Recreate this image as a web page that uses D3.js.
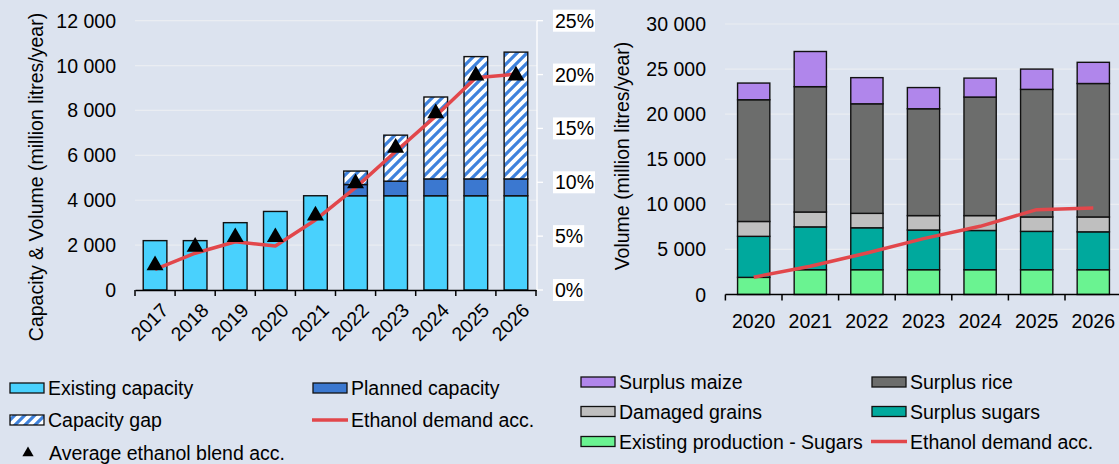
<!DOCTYPE html>
<html>
<head>
<meta charset="utf-8">
<script src="https://cdn.jsdelivr.net/npm/d3@7"></script>
<style>
  body { margin: 0; background: #dce3ef; }
  svg { display: block; font-family: "Liberation Sans", Arial, sans-serif; }
</style>
</head>
<body>
<svg id="chart" width="1119" height="464"></svg>
<script>
// left panel: capacity vs demand
const years1 = ["2017", "2018", "2019", "2020", "2021", "2022", "2023", "2024", "2025", "2026"];
const existingCap = [2200, 2200, 3000, 3500, 4200, 4200, 4200, 4200, 4200, 4200];
const plannedCap = [0, 0, 0, 0, 0, 500, 650, 750, 750, 750];
const capacityGap = [0, 0, 0, 0, 0, 600, 2050, 3650, 5450, 5650];
const demandAcc1 = [920, 1640, 2150, 1960, 3120, 4560, 6170, 7750, 9460, 9620];
const blendAcc = [2.3, 4.0, 4.9, 4.9, 6.9, 9.9, 13.2, 16.4, 19.9, 19.9];
const ticks1 = [0, 2000, 4000, 6000, 8000, 10000, 12000];
const pctTicks = [0, 5, 10, 15, 20, 25];

// right panel: feedstock volumes
const years2 = ["2020", "2021", "2022", "2023", "2024", "2025", "2026"];
const existingSugars = [1900, 2750, 2750, 2750, 2750, 2750, 2750];
const surplusSugars = [4550, 4750, 4650, 4400, 4350, 4250, 4200];
const damagedGrains = [1650, 1650, 1600, 1600, 1650, 1600, 1650];
const surplusRice = [13500, 13900, 12150, 11850, 13150, 14150, 14800];
const surplusMaize = [1850, 3900, 2900, 2350, 2100, 2250, 2350];
const demandAcc2 = [1920, 3130, 4610, 6200, 7560, 9410, 9600];
const ticks2 = [0, 5000, 10000, 15000, 20000, 25000, 30000];

const svg = d3.select("#chart");
const fmt = d => d3.format(",")(d).replace(/,/g, " ");
const red = "#e2474b";
const fs = 19.5;

const defs = svg.append("defs");
const pat = defs.append("pattern")
  .attr("id", "gap")
  .attr("patternUnits", "userSpaceOnUse")
  .attr("width", 10).attr("height", 10);
pat.append("rect").attr("width", 10).attr("height", 10).attr("fill", "#fff");
pat.append("path")
  .attr("d", "M-2,2 L2,-2 M0,10 L10,0 M8,12 L12,8")
  .attr("stroke", "#3f82dc").attr("stroke-width", 3.2);

// ---------- left chart ----------
const x1 = d3.scaleBand().domain(years1).range([135, 536]).paddingInner(0.41).paddingOuter(0.205);
const y1 = d3.scaleLinear().domain([0, 12000]).range([290, 20.7]);
const yp = d3.scaleLinear().domain([0, 25]).range([290, 20.7]);

const g1 = svg.append("g");
g1.selectAll(".grid1").data(ticks1.slice(1)).join("line")
  .attr("x1", 135).attr("x2", 537)
  .attr("y1", d => y1(d)).attr("y2", d => y1(d))
  .attr("stroke", "#eaedf2").attr("stroke-width", 1.2);

g1.selectAll(".ylab1").data(ticks1).join("text")
  .attr("x", 116).attr("y", d => y1(d)).attr("dy", "0.36em")
  .attr("text-anchor", "end").attr("font-size", fs)
  .text(fmt);

const stack1 = d3.stack().keys([0, 1, 2])
  .value((i, k) => [existingCap, plannedCap, capacityGap][k][i])(d3.range(years1.length));
const fills1 = ["#49d1fd", "#3b78d0", "url(#gap)"];
stack1.forEach((layer, k) => {
  g1.selectAll(".s1-" + k).data(layer.filter(d => d[1] > d[0])).join("rect")
    .attr("x", d => x1(years1[d.data]))
    .attr("width", x1.bandwidth())
    .attr("y", d => y1(d[1]))
    .attr("height", d => y1(d[0]) - y1(d[1]))
    .attr("fill", fills1[k]).attr("stroke", "#111").attr("stroke-width", 1.4);
});

// x axis
const ax1 = g1.append("g").attr("transform", "translate(0,290)")
  .call(d3.axisBottom(x1).tickSize(0).tickFormat(""));
ax1.select(".domain").attr("stroke", "#000").attr("stroke-width", 1.5);
const bounds1 = d3.range(years1.length + 1).map(i => 135 + i * (536 - 135) / years1.length);
g1.selectAll(".tk1").data(bounds1).join("line")
  .attr("x1", d => d).attr("x2", d => d).attr("y1", 290).attr("y2", 296)
  .attr("stroke", "#000").attr("stroke-width", 1.5);
g1.selectAll(".xlab1").data(years1).join("text")
  .attr("transform", d => `translate(${x1(d) + x1.bandwidth() / 2 + 5},302) rotate(-45)`)
  .attr("text-anchor", "end").attr("dy", "0.7em").attr("font-size", fs)
  .text(d => d);

// right percent axis
g1.append("line").attr("x1", 537).attr("x2", 537).attr("y1", 20.7).attr("y2", 290)
  .attr("stroke", "#fff").attr("stroke-width", 1.3);
pctTicks.forEach(p => {
  const yy = yp(p);
  g1.append("line").attr("x1", 537).attr("x2", 543).attr("y1", yy).attr("y2", yy)
    .attr("stroke", "#fff").attr("stroke-width", 1.3);
  const t = g1.append("text").attr("x", 555).attr("y", yy).attr("dy", "0.36em")
    .attr("font-size", fs).text(p + "%");
  const bb = t.node().getBBox();
  g1.insert("rect", "text").attr("x", bb.x - 2).attr("y", bb.y)
    .attr("width", bb.width + 3).attr("height", bb.height).attr("fill", "#fff");
});

// demand line
const line1 = d3.line().x((d, i) => x1(years1[i]) + x1.bandwidth() / 2).y(d => y1(d));
g1.append("path").attr("d", line1(demandAcc1)).attr("fill", "none")
  .attr("stroke", red).attr("stroke-width", 3.5).attr("stroke-linejoin", "round");

// blend triangles
const tri = d3.symbol().type(d3.symbolTriangle).size(125);
g1.selectAll(".tri").data(blendAcc).join("path")
  .attr("transform", (d, i) => `translate(${x1(years1[i]) + x1.bandwidth() / 2},${yp(d)})`)
  .attr("d", tri).attr("fill", "#000");

g1.append("text")
  .attr("transform", "translate(43,177) rotate(-90)")
  .attr("text-anchor", "middle").attr("font-size", fs)
  .text("Capacity & Volume (million litres/year)");

// ---------- right chart ----------
const x2 = d3.scaleBand().domain(years2).range([725.4, 1121.6]).paddingInner(0.43).paddingOuter(0.215);
const y2 = d3.scaleLinear().domain([0, 30000]).range([294.5, 24]);
const g2 = svg.append("g");

g2.selectAll(".grid2").data(ticks2.slice(1)).join("line")
  .attr("x1", 725).attr("x2", 1119)
  .attr("y1", d => y2(d)).attr("y2", d => y2(d))
  .attr("stroke", "#eaedf2").attr("stroke-width", 1.2);

g2.selectAll(".ylab2").data(ticks2).join("text")
  .attr("x", 706).attr("y", d => y2(d)).attr("dy", "0.36em")
  .attr("text-anchor", "end").attr("font-size", fs)
  .text(fmt);

const series2 = [existingSugars, surplusSugars, damagedGrains, surplusRice, surplusMaize];
const fills2 = ["#6af391", "#00a99d", "#bfbfbf", "#6c6d6c", "#b086eb"];
const stack2 = d3.stack().keys(d3.range(series2.length))
  .value((i, k) => series2[k][i])(d3.range(years2.length));
stack2.forEach((layer, k) => {
  g2.selectAll(".s2-" + k).data(layer).join("rect")
    .attr("x", d => x2(years2[d.data]))
    .attr("width", x2.bandwidth())
    .attr("y", d => y2(d[1]))
    .attr("height", d => y2(d[0]) - y2(d[1]))
    .attr("fill", fills2[k]).attr("stroke", "#111").attr("stroke-width", 1.4);
});

g2.append("line").attr("x1", 725.4).attr("x2", 1121.6).attr("y1", 294.5).attr("y2", 294.5)
  .attr("stroke", "#000").attr("stroke-width", 1.5);
const bounds2 = d3.range(years2.length + 1).map(i => 725.4 + i * (1121.6 - 725.4) / years2.length);
g2.selectAll(".tk2").data(bounds2).join("line")
  .attr("x1", d => d).attr("x2", d => d).attr("y1", 294.5).attr("y2", 300.5)
  .attr("stroke", "#000").attr("stroke-width", 1.5);
g2.selectAll(".xlab2").data(years2).join("text")
  .attr("x", d => x2(d) + x2.bandwidth() / 2).attr("y", 328)
  .attr("text-anchor", "middle").attr("font-size", fs)
  .text(d => d);

const line2 = d3.line().x((d, i) => x2(years2[i]) + x2.bandwidth() / 2).y(d => y2(d));
g2.append("path").attr("d", line2(demandAcc2)).attr("fill", "none")
  .attr("stroke", red).attr("stroke-width", 3.5).attr("stroke-linejoin", "round");

g2.append("text")
  .attr("transform", "translate(629,156) rotate(-90)")
  .attr("text-anchor", "middle").attr("font-size", fs)
  .text("Volume (million litres/year)");

// ---------- legends ----------
const leg = svg.append("g").attr("font-size", fs);
function swatch(x, y, fill, label) {
  leg.append("rect").attr("x", x).attr("y", y).attr("width", 34).attr("height", 10)
    .attr("fill", fill).attr("stroke", "#111").attr("stroke-width", 1.3);
  leg.append("text").attr("x", x + 38).attr("y", y + 12).text(label);
}
function lineKey(x, y, label) {
  leg.append("line").attr("x1", x).attr("x2", x + 36).attr("y1", y + 5).attr("y2", y + 5)
    .attr("stroke", red).attr("stroke-width", 3.5);
  leg.append("text").attr("x", x + 39).attr("y", y + 12).text(label);
}
swatch(10, 383, fills1[0], "Existing capacity");
swatch(313, 383, fills1[1], "Planned capacity");
swatch(10, 415, "url(#gap)", "Capacity gap");
lineKey(312, 415, "Ethanol demand acc.");
leg.append("path").attr("transform", "translate(28,453)")
  .attr("d", d3.symbol().type(d3.symbolTriangle).size(55)).attr("fill", "#000");
leg.append("text").attr("x", 49).attr("y", 459.5).text("Average ethanol blend acc.");

swatch(581, 377, fills2[4], "Surplus maize");
swatch(872, 377, fills2[3], "Surplus rice");
swatch(581, 406.5, fills2[2], "Damaged grains");
swatch(872, 406.5, fills2[1], "Surplus sugars");
swatch(581, 436.5, fills2[0], "Existing production - Sugars");
lineKey(871, 436.5, "Ethanol demand acc.");
</script>
</body>
</html>
